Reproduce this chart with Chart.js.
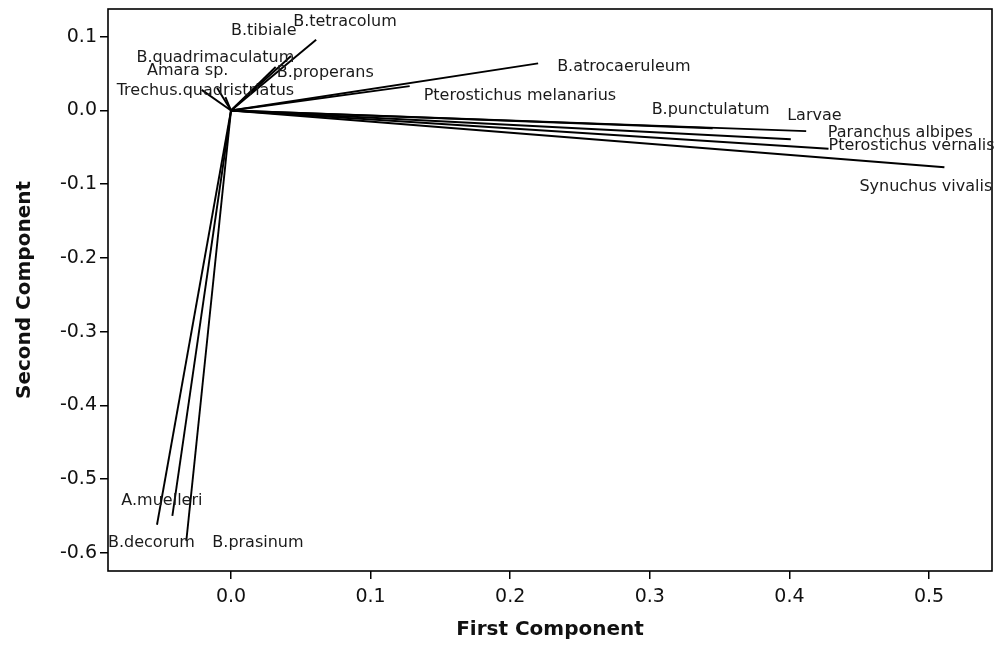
<!DOCTYPE html>
<html>
<head>
<meta charset="utf-8">
<title>Loading Plot</title>
<script src="https://cdn.jsdelivr.net/npm/chart.js@4.4.1/dist/chart.umd.min.js"></script>
<style>
  html, body { margin: 0; padding: 0; background: #fff; }
  #wrap { width: 1003px; height: 645px; }
</style>
</head>
<body>
<div id="wrap"><canvas id="loadingChart" width="1003" height="645"></canvas></div>
<script>
// Loadings on the first two principal components
const species = [
    'B.tetracolum', 'B.tibiale', 'B.quadrimaculatum', 'Amara sp.',
    'Trechus.quadristriatus', 'B.properans', 'B.atrocaeruleum', 'Pterostichus melanarius',
    'B.punctulatum', 'Larvae', 'Paranchus albipes', 'Pterostichus vernalis',
    'Synuchus vivalis', 'A.muelleri', 'B.decorum', 'B.prasinum'
];
const firstComp = [
    0.061, 0.043, -0.004, -0.010,
    -0.021, 0.032, 0.220, 0.128,
    0.345, 0.412, 0.401, 0.428,
    0.511, -0.042, -0.053, -0.032
];
const secondComp = [
    0.096, 0.074, 0.018, 0.031,
    0.028, 0.059, 0.064, 0.033,
    -0.024, -0.028, -0.039, -0.052,
    -0.077, -0.550, -0.562, -0.584
];
const xTicks = [0.0, 0.1, 0.2, 0.3, 0.4, 0.5];
const yTicks = [0.1, 0.0, -0.1, -0.2, -0.3, -0.4, -0.5, -0.6];

// where each name sits relative to the end of its line (px)
const labelShift = [
    [-23, -18], [-60, -25], [-89, -39], [-70, -17],
    [-85, 1], [1, 6], [19, 4], [14, 10],
    [-61, -18], [-19, -15], [37, -6], [0, -3],
    [-85, 20], [-51, -15], [-49, 18], [26, 2]
];

const fmt = v => Math.abs(v) < 1e-9 ? '0.0' : v.toFixed(1);

// one dataset per vector, from the origin out to the loading
const datasets = species.map((name, i) => ({
    label: name,
    data: [{ x: 0, y: 0 }, { x: firstComp[i], y: secondComp[i] }],
    borderColor: '#000',
    borderWidth: 1.9,
    pointRadius: 0,
    fill: false
}));

const frameAndNames = {
    id: 'frameAndNames',
    afterDatasetsDraw(chart) {
        const { ctx, chartArea: a, scales: { x, y } } = chart;
        ctx.save();
        ctx.strokeStyle = '#000';
        ctx.lineWidth = 1.6;
        ctx.strokeRect(a.left, a.top, a.right - a.left, a.bottom - a.top);

        ctx.fillStyle = '#1a1a1a';
        ctx.font = '16px "DejaVu Sans"';
        ctx.textAlign = 'left';
        ctx.textBaseline = 'middle';
        species.forEach((name, i) => {
            const px = x.getPixelForValue(firstComp[i]);
            const py = y.getPixelForValue(secondComp[i]);
            ctx.fillText(name, px + labelShift[i][0], py + labelShift[i][1]);
        });
        ctx.restore();
    }
};

new Chart(document.getElementById('loadingChart'), {
    type: 'line',
    data: { datasets: datasets },
    options: {
        responsive: false,
        animation: false,
        parsing: false,
        layout: { padding: { top: 9, right: 11, left: 0, bottom: 0 } },
        plugins: {
            legend: { display: false },
            tooltip: { enabled: false }
        },
        scales: {
            x: {
                type: 'linear',
                min: -0.0881,
                max: 0.5451,
                afterFit: s => { s.height = 74; s.paddingLeft = 0; s.paddingRight = 0; },
                afterBuildTicks: s => { s.ticks = xTicks.map(v => ({ value: v })); },
                grid: { drawOnChartArea: false, tickLength: 8, color: '#000', lineWidth: 1.5 },
                border: { display: false },
                ticks: {
                    color: '#111',
                    font: { family: 'DejaVu Sans', size: 19 },
                    padding: 7,
                    maxRotation: 0,
                    callback: fmt
                },
                title: {
                    display: true,
                    text: 'First Component',
                    color: '#111',
                    font: { family: 'DejaVu Sans', size: 20, weight: 'bold' },
                    padding: { top: 0, bottom: 3 }
                }
            },
            y: {
                type: 'linear',
                min: -0.6248,
                max: 0.1377,
                afterFit: s => { s.width = 108; s.paddingTop = 0; s.paddingBottom = 0; },
                afterBuildTicks: s => { s.ticks = yTicks.map(v => ({ value: v })); },
                grid: { drawOnChartArea: false, tickLength: 8, color: '#000', lineWidth: 1.5 },
                border: { display: false },
                ticks: {
                    color: '#111',
                    font: { family: 'DejaVu Sans', size: 19 },
                    padding: 3,
                    callback: fmt
                },
                title: {
                    display: true,
                    text: 'Second Component',
                    color: '#111',
                    font: { family: 'DejaVu Sans', size: 20, weight: 'bold' },
                    padding: { top: 13, bottom: 0 }
                }
            }
        }
    },
    plugins: [frameAndNames]
});
</script>
</body>
</html>
